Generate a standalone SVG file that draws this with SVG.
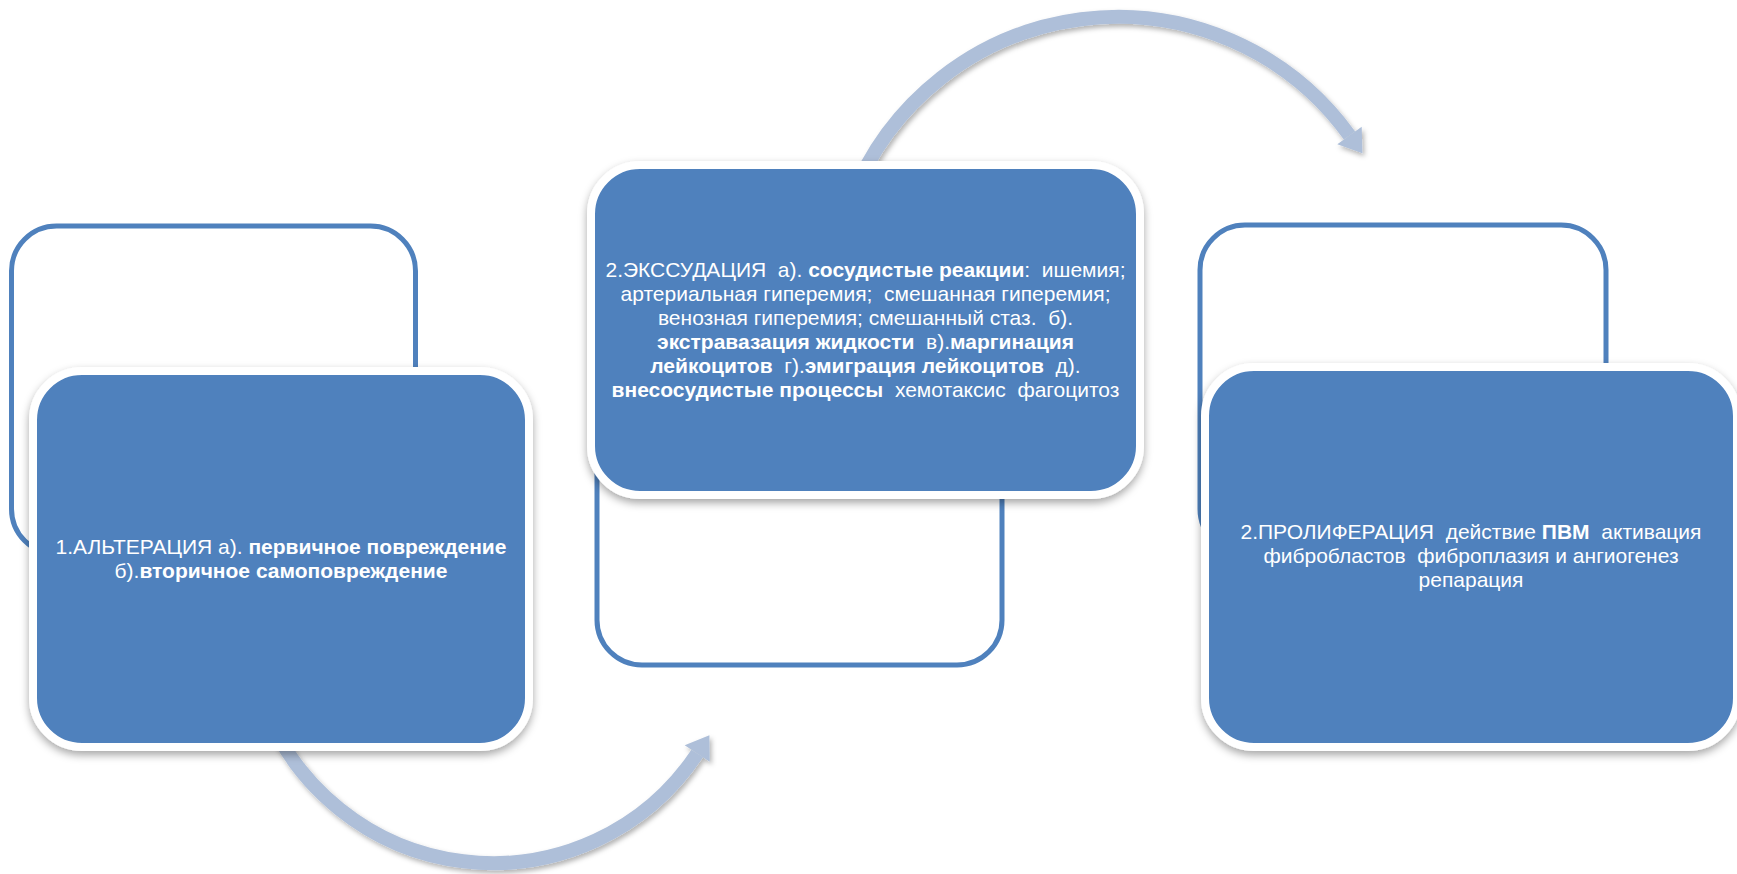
<svg xmlns="http://www.w3.org/2000/svg" width="1737" height="874" viewBox="0 0 1737 874">
<defs>
<filter id="shadow" x="-10%" y="-10%" width="120%" height="125%">
<feDropShadow dx="0" dy="4" stdDeviation="4" flood-color="#000" flood-opacity="0.35"/>
</filter>
<filter id="arcShadow" x="-10%" y="-10%" width="120%" height="125%">
<feDropShadow dx="2" dy="3" stdDeviation="2.5" flood-color="#000" flood-opacity="0.3"/>
</filter>
</defs>
<style>
.outline{fill:#fff;stroke:#4F81BD;stroke-width:5}
.card{fill:#4F81BD;stroke:#fff;stroke-width:8;filter:url(#shadow)}
.lbl{font-family:"Liberation Sans",Arial,sans-serif;font-size:21px;fill:#fff;text-anchor:middle}
.b{font-weight:bold}
.shaft{fill:none;stroke:#AEBFD9;stroke-width:14}
.head{fill:#AEBFD9}
</style>
<rect width="1737" height="874" fill="#fff"/>
<g id="connectors" filter="url(#arcShadow)">
<path class="shaft" d="M 262.1 700 A 245 245 0 0 0 697.2 753.5"/>
<polygon class="head" points="709.4,735.2 709.7,761.8 684.7,745.2"/>
<path class="shaft" d="M 851 200 A 285.8 285.8 0 0 1 1349.5 135.5"/>
<polygon class="head" points="1362.4,153.3 1361.7,126.7 1337.3,144.3"/>
</g>
<g id="node-alteration">
<rect class="outline" x="11.5" y="226" width="404" height="328" rx="45"/>
<rect class="card" x="33" y="371" width="496" height="376" rx="49"/>
<text class="lbl" x="281" y="554" xml:space="preserve">1.АЛЬТЕРАЦИЯ а). <tspan class="b">первичное повреждение</tspan></text>
<text class="lbl" x="281" y="578" xml:space="preserve">б).<tspan class="b">вторичное самоповреждение</tspan></text>
</g>
<g id="node-exudation">
<rect class="outline" x="597" y="335" width="405" height="330" rx="45"/>
<rect class="card" x="591" y="165" width="549" height="330" rx="49"/>
<text class="lbl" x="865.5" y="277" xml:space="preserve">2.ЭКССУДАЦИЯ  а). <tspan class="b">сосудистые реакции</tspan>:  ишемия;</text>
<text class="lbl" x="865.5" y="301" xml:space="preserve">артериальная гиперемия;  смешанная гиперемия;</text>
<text class="lbl" x="865.5" y="325" xml:space="preserve">венозная гиперемия; смешанный стаз.  б).</text>
<text class="lbl" x="865.5" y="349" xml:space="preserve"><tspan class="b">экстравазация жидкости</tspan>  в).<tspan class="b">маргинация</tspan></text>
<text class="lbl" x="865.5" y="373" xml:space="preserve"><tspan class="b">лейкоцитов</tspan>  г).<tspan class="b">эмиграция лейкоцитов</tspan>  д).</text>
<text class="lbl" x="865.5" y="397" xml:space="preserve"><tspan class="b">внесосудистые процессы</tspan>  хемотаксис  фагоцитоз</text>
</g>
<g id="node-proliferation">
<rect class="outline" x="1200" y="225" width="406" height="329" rx="45"/>
<rect class="card" x="1205" y="367" width="532" height="380" rx="49"/>
<text class="lbl" x="1471" y="539" xml:space="preserve">2.ПРОЛИФЕРАЦИЯ  действие <tspan class="b">ПВМ</tspan>  активация</text>
<text class="lbl" x="1471" y="563" xml:space="preserve">фибробластов  фиброплазия и ангиогенез</text>
<text class="lbl" x="1471" y="587" xml:space="preserve">репарация</text>
</g>
</svg>
